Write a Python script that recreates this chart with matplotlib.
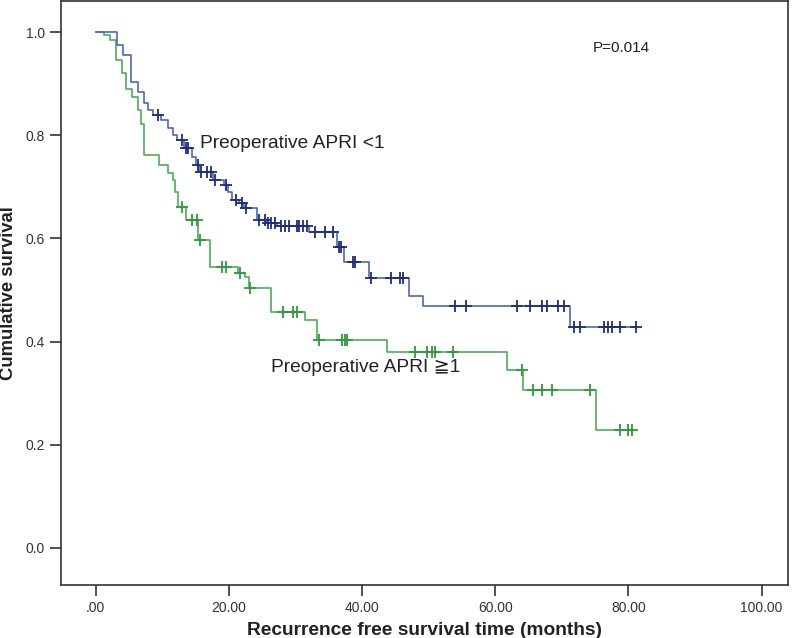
import numpy as np
import matplotlib.pyplot as plt

# Preoperative APRI < 1 (blue): step times and survival after each step
low_times = [0, 3.2, 4.1, 5.3, 6.3, 7.2, 7.8, 8.6, 9.8, 10.8, 11.6, 12.2, 13.3, 14.5,
             15.0, 15.5, 17.6, 19.2, 19.9, 20.5, 21.5, 22.3, 24.3, 25.7, 27.2, 32.1,
             36.2, 37.3, 41.1, 47.1, 49.1, 71.3]
low_surv = [1.0, 0.975, 0.955, 0.903, 0.884, 0.862, 0.849, 0.840, 0.830, 0.814, 0.800,
            0.791, 0.775, 0.758, 0.742, 0.729, 0.713, 0.703, 0.690, 0.674, 0.669, 0.659,
            0.636, 0.630, 0.624, 0.612, 0.583, 0.554, 0.523, 0.488, 0.469, 0.428]
low_cens = [9.3, 12.9, 13.6, 13.9, 15.3, 15.8, 16.7, 17.3, 17.9, 19.6, 21.1, 21.9, 22.5,
            24.6, 25.4, 25.9, 26.4, 26.9, 27.9, 28.5, 29.1, 30.2, 30.6, 31.1, 31.7, 32.9,
            34.4, 35.6, 36.6, 36.9, 38.6, 39.0, 41.4, 44.4, 45.7, 46.1, 53.9, 55.6, 63.2,
            65.2, 67.0, 67.7, 69.4, 70.4, 71.9, 72.7, 76.4, 76.9, 77.5, 78.7, 81.2]

# Preoperative APRI >= 1 (green)
high_times = [0, 1.3, 2.1, 3.1, 3.9, 4.6, 5.5, 6.3, 6.8, 7.2, 9.5, 10.8, 11.6, 11.9,
              12.4, 13.6, 15.3, 17.1, 21.3, 22.4, 23.1, 26.4, 31.4, 33.2, 43.7, 61.7,
              64.2, 75.2]
high_surv = [1.0, 0.994, 0.984, 0.946, 0.920, 0.890, 0.874, 0.849, 0.822, 0.761, 0.742,
             0.727, 0.713, 0.690, 0.661, 0.636, 0.597, 0.545, 0.533, 0.525, 0.504, 0.457,
             0.442, 0.403, 0.380, 0.345, 0.306, 0.229]
high_cens = [13.0, 14.5, 15.2, 15.6, 19.0, 19.5, 21.6, 23.2, 28.1, 29.6, 30.2, 33.6,
             37.0, 37.4, 37.8, 47.9, 49.8, 50.5, 50.9, 53.6, 64.0, 65.6, 67.0, 68.5,
             74.2, 78.7, 79.9, 80.6]

x_ticks = [0, 20, 40, 60, 80, 100]
x_ticklabels = ['.00', '20.00', '40.00', '60.00', '80.00', '100.00']
y_ticks = [0.0, 0.2, 0.4, 0.6, 0.8, 1.0]

plt.rcParams['font.family'] = ['Liberation Sans', 'DejaVu Sans']

fig = plt.figure(figsize=(8, 6.38), dpi=100)
ax = fig.add_axes([0.0763, 0.083, 0.909, 0.915])


def draw_km(times, surv, cens, line_color, mark_color):
    times = np.array(times)
    surv = np.array(surv)
    cens = np.array(cens)
    end = max(times[-1], cens.max())
    t = np.append(times, end)
    s = np.append(surv, surv[-1])
    ax.step(t, s, where='post', color=line_color, linewidth=1.2)
    idx = np.searchsorted(times, cens, side='right') - 1
    ax.plot(cens, surv[idx], linestyle='none', marker='+', markersize=8,
            markeredgewidth=1.3, color=mark_color)


draw_km(high_times, high_surv, high_cens, '#4cae55', '#2e9a3c')
draw_km(low_times, low_surv, low_cens, '#4a68b8', '#1c2c84')

ax.text(79, 0.969, 'P=0.014', fontsize=11, ha='center', va='center', color='#222222')
ax.text(15.6, 0.785, 'Preoperative APRI <1', fontsize=13.8, ha='left', va='center', color='#222222')
ax.text(26.4, 0.349, 'Preoperative APRI \u22671', fontsize=13.8, ha='left', va='center', color='#222222')

ax.set_xlim(-5.2, 104)
ax.set_ylim(-0.072, 1.06)
ax.set_xticks(x_ticks)
ax.set_xticklabels(x_ticklabels)
ax.set_yticks(y_ticks)
ax.set_yticklabels(['0.0', '0.2', '0.4', '0.6', '0.8', '1.0'])
ax.tick_params(direction='out', length=8, width=1.2, colors='#333333', labelsize=10,
               labelcolor='#333333')
for sp in ax.spines.values():
    sp.set_color('#333333')
    sp.set_linewidth(1.2)

ax.set_xlabel('Recurrence free survival time (months)', fontsize=13.8, fontweight='bold',
              color='#222222', labelpad=5)
ax.set_ylabel('Cumulative survival', fontsize=13.3, fontweight='bold', color='#222222',
              labelpad=6)

fig.savefig('out.png', dpi=100)
